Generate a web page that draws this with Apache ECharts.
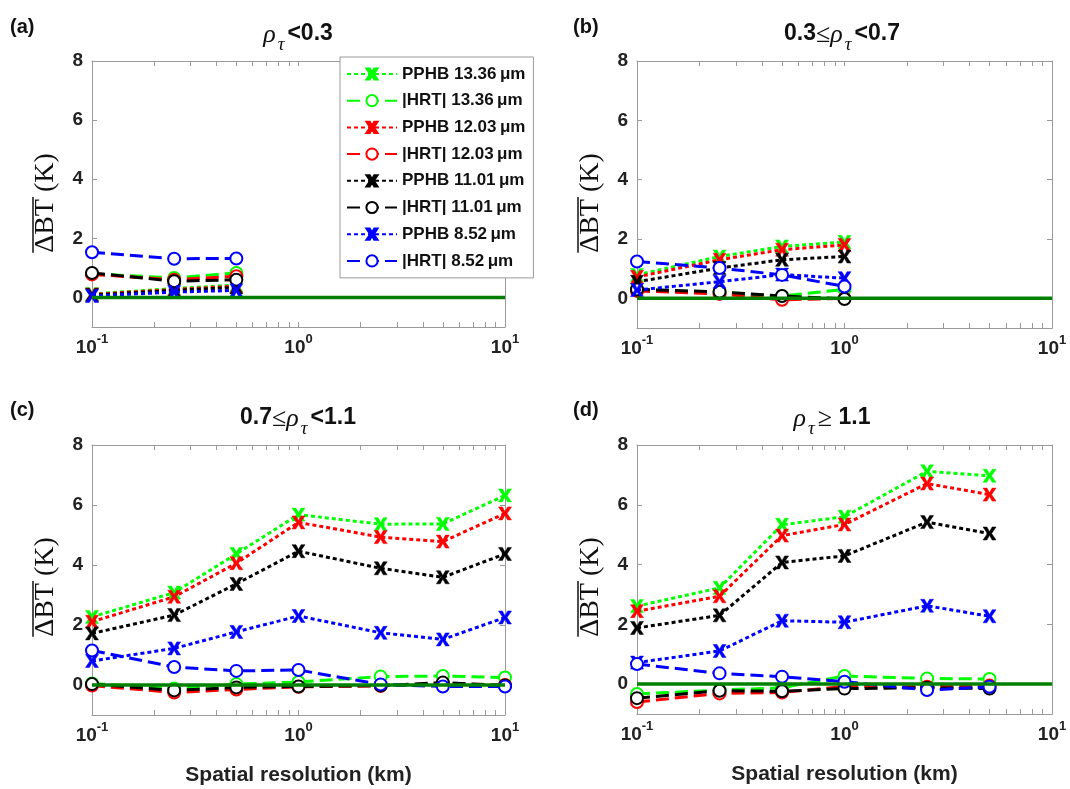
<!DOCTYPE html>
<html><head><meta charset="utf-8">
<script src="https://cdn.jsdelivr.net/npm/echarts@6/dist/echarts.min.js"></script>
<style>html,body{margin:0;padding:0;background:#fff}#c{width:1070px;height:789px}</style>
</head><body><div id="c"></div>
<script>
// ---------- data ----------
const wavelengths = ['13.36', '12.03', '11.01', '8.52'];
const xTickValues = [0.1, 1, 10];
const xMinorTicks = [0.2,0.3,0.4,0.5,0.6,0.7,0.8,0.9,2,3,4,5,6,7,8,9];
const yTickValues = [0, 2, 4, 6, 8];
const panelTitles = ['(a)', '(b)', '(c)', '(d)'];
const xAxisTitle = 'Spatial resolution (km)';
const yAxisTitle = 'ΔBT (K)';

// panel (a): rho_tau < 0.3
const resA = [0.1, 0.25, 0.5];
const pphbA_1336 = [0.12, 0.30, 0.42];
const hrtA_1336  = [0.80, 0.66, 0.83];
const pphbA_1203 = [0.10, 0.27, 0.38];
const hrtA_1203  = [0.78, 0.60, 0.72];
const pphbA_1101 = [0.08, 0.24, 0.34];
const hrtA_1101  = [0.83, 0.55, 0.60];
const pphbA_852  = [0.05, 0.18, 0.24];
const hrtA_852   = [1.53, 1.31, 1.32];

// panel (b): 0.3 <= rho_tau < 0.7
const resB = [0.1, 0.25, 0.5, 1];
const pphbB_1336 = [0.79, 1.41, 1.75, 1.90];
const hrtB_1336  = [0.30, 0.20, 0.08, 0.30];
const pphbB_1203 = [0.72, 1.30, 1.64, 1.80];
const hrtB_1203  = [0.25, 0.15, -0.05, 0.00];
const pphbB_1101 = [0.56, 1.02, 1.30, 1.41];
const hrtB_1101  = [0.30, 0.22, 0.08, -0.02];
const pphbB_852  = [0.28, 0.56, 0.80, 0.68];
const hrtB_852   = [1.24, 1.02, 0.79, 0.40];

// panel (c): 0.7 <= rho_tau < 1.1
const resC = [0.1, 0.25, 0.5, 1, 2.5, 5, 10];
const pphbC_1336 = [2.27, 3.08, 4.37, 5.68, 5.36, 5.37, 6.32];
const hrtC_1336  = [0.05, -0.12, 0.03, 0.10, 0.28, 0.30, 0.25];
const pphbC_1203 = [2.11, 2.94, 4.06, 5.42, 4.93, 4.78, 5.72];
const hrtC_1203  = [-0.02, -0.25, -0.15, -0.06, -0.03, 0.05, 0.00];
const pphbC_1101 = [1.72, 2.33, 3.37, 4.46, 3.89, 3.59, 4.37];
const hrtC_1101  = [0.03, -0.18, -0.08, -0.05, -0.02, 0.08, -0.02];
const pphbC_852  = [0.80, 1.22, 1.77, 2.30, 1.74, 1.52, 2.25];
const hrtC_852   = [1.15, 0.60, 0.47, 0.50, 0.02, -0.05, -0.05];

// panel (d): rho_tau >= 1.1
const resD = [0.1, 0.25, 0.5, 1, 2.5, 5];
const pphbD_1336 = [2.61, 3.22, 5.33, 5.60, 7.12, 6.97];
const hrtD_1336  = [-0.33, -0.20, -0.12, 0.27, 0.19, 0.17];
const pphbD_1203 = [2.44, 2.94, 4.97, 5.34, 6.71, 6.34];
const hrtD_1203  = [-0.60, -0.31, -0.28, -0.08, -0.09, -0.05];
const pphbD_1101 = [1.88, 2.30, 4.07, 4.29, 5.42, 5.04];
const hrtD_1101  = [-0.47, -0.22, -0.24, -0.15, -0.12, -0.15];
const pphbD_852  = [0.72, 1.11, 2.12, 2.07, 2.62, 2.27];
const hrtD_852   = [0.67, 0.36, 0.25, 0.08, -0.20, -0.09];

const zeroLineX = [0.1, 10];
const zeroLineY = [0, 0];

// ---------- layout / style ----------
const panels = [
  {x: resA, pphb: [pphbA_1336, pphbA_1203, pphbA_1101, pphbA_852], hrt: [hrtA_1336, hrtA_1203, hrtA_1101, hrtA_852]},
  {x: resB, pphb: [pphbB_1336, pphbB_1203, pphbB_1101, pphbB_852], hrt: [hrtB_1336, hrtB_1203, hrtB_1101, hrtB_852]},
  {x: resC, pphb: [pphbC_1336, pphbC_1203, pphbC_1101, pphbC_852], hrt: [hrtC_1336, hrtC_1203, hrtC_1101, hrtC_852]},
  {x: resD, pphb: [pphbD_1336, pphbD_1203, pphbD_1101, pphbD_852], hrt: [hrtD_1336, hrtD_1203, hrtD_1101, hrtD_852]}
];
const grids = [
  {left: 92,  top: 61,  width: 413, height: 266},
  {left: 637, top: 61,  width: 415, height: 267},
  {left: 92,  top: 445, width: 413, height: 270},
  {left: 637, top: 445, width: 415, height: 269}
];
const colors = ['#00ff00', '#ff0000', '#000000', '#0000ff'];
const SANS = '"Liberation Sans", Arial, Helvetica, sans-serif';
const SERIF = '"Liberation Serif", "Times New Roman", serif';
const AX = '#9a9a9a';
const xSym = 'path://M0,0 L3,0 L5,3.6 L7,0 L10,0 L6.6,5 L10,10 L7,10 L5,6.4 L3,10 L0,10 L3.4,5 Z';

const xAxes = [], yAxes = [], series = [];
grids.forEach((g, gi) => {
  const bottomName = gi >= 2 ? xAxisTitle : '';
  xAxes.push({
    type: 'log', logBase: 10, min: 0.1, max: 10, gridIndex: gi, position: 'bottom',
    name: bottomName, nameLocation: 'middle', nameGap: 50,
    nameTextStyle: {fontFamily: SANS, fontWeight: 'bold', fontSize: 21, color: '#222'},
    axisLine: {show: true, onZero: false, lineStyle: {color: AX, width: 1}},
    axisTick: {show: true, inside: true, length: 5, lineStyle: {color: AX}, customValues: xTickValues.concat(xMinorTicks)},
    axisLabel: {
      show: true, margin: 6, customValues: xTickValues,
      formatter: v => '{b|10}{s|' + Math.round(Math.log10(v)) + '}',
      rich: {
        b: {fontFamily: SANS, fontWeight: 'bold', fontSize: 19, color: '#222', lineHeight: 30},
        s: {fontFamily: SANS, fontWeight: 'bold', fontSize: 13, color: '#222', lineHeight: 12, verticalAlign: 'top'}
      }
    },
    splitLine: {show: false}
  });
  xAxes.push({
    type: 'log', logBase: 10, min: 0.1, max: 10, gridIndex: gi, position: 'top',
    axisLine: {show: true, onZero: false, lineStyle: {color: AX, width: 1}},
    axisTick: {show: true, inside: true, length: 5, lineStyle: {color: AX}, customValues: xTickValues.concat(xMinorTicks)},
    axisLabel: {show: false}, splitLine: {show: false}
  });
  yAxes.push({
    type: 'value', min: -1, max: 8, gridIndex: gi, position: 'left',
    axisLine: {show: true, onZero: false, lineStyle: {color: AX, width: 1}},
    axisTick: {show: true, inside: true, length: 5, lineStyle: {color: AX}, customValues: yTickValues},
    axisLabel: {show: true, margin: 9, customValues: yTickValues, fontFamily: SANS, fontWeight: 'bold', fontSize: 19, color: '#222'},
    splitLine: {show: false}
  });
  yAxes.push({
    type: 'value', min: -1, max: 8, gridIndex: gi, position: 'right',
    axisLine: {show: true, onZero: false, lineStyle: {color: AX, width: 1}},
    axisTick: {show: true, inside: true, length: 5, lineStyle: {color: AX}, customValues: yTickValues},
    axisLabel: {show: false}, splitLine: {show: false}
  });

  const p = panels[gi];
  for (let k = 0; k < 4; k++) {
    const c = colors[k];
    series.push({
      type: 'line', name: 'PPHB ' + wavelengths[k] + '\u2009μm',
      xAxisIndex: gi * 2, yAxisIndex: gi * 2,
      data: p.x.map((x, j) => [x, p.pphb[k][j]]),
      symbol: xSym, symbolSize: 13,
      lineStyle: {color: c, width: 3, type: [4, 3]},
      itemStyle: {color: c, borderColor: c, borderWidth: 0.5},
      z: 2 + 2 * k, animation: false
    });
    series.push({
      type: 'line', name: '|HRT| ' + wavelengths[k] + '\u2009μm',
      xAxisIndex: gi * 2, yAxisIndex: gi * 2,
      data: p.x.map((x, j) => [x, p.hrt[k][j]]),
      symbol: 'emptyCircle', symbolSize: 12,
      lineStyle: {color: c, width: 3, type: [13, 6]},
      itemStyle: {color: c, borderColor: c, borderWidth: 2.5},
      z: 3 + 2 * k, animation: false
    });
  }
  series.push({
    type: 'line', name: 'zero', xAxisIndex: gi * 2, yAxisIndex: gi * 2,
    data: zeroLineX.map((x, j) => [x, zeroLineY[j]]),
    symbol: 'none', lineStyle: {color: '#008000', width: 3.5}, z: 20, animation: false,
    silent: true
  });
});

const legendNames = [];
wavelengths.forEach(w => { legendNames.push('PPHB ' + w + '\u2009μm'); legendNames.push('|HRT| ' + w + '\u2009μm'); });

// ---------- graphics: panel letters, titles, y-axis names ----------
const graphics = [];
const letterPos = [[10, 27], [573, 27], [10, 410], [573, 410]];
letterPos.forEach((pp, i) => graphics.push({
  type: 'text', x: pp[0], y: pp[1], z: 50,
  style: {text: panelTitles[i], fontFamily: SANS, fontWeight: 'bold', fontSize: 20, fill: '#111', verticalAlign: 'middle', align: 'left'}
}));
const titleRich = {
  b: {fontFamily: SANS, fontWeight: 'bold', fontSize: 23, fill: '#111', lineHeight: 24, verticalAlign: 'top'},
  r: {fontFamily: SERIF, fontStyle: 'italic', fontSize: 26, fill: '#111', lineHeight: 24, verticalAlign: 'top'},
  t: {fontFamily: SERIF, fontStyle: 'italic', fontSize: 19, fill: '#111', lineHeight: 32, verticalAlign: 'bottom', padding: [0, 3, 0, 2]},
  m: {fontFamily: SERIF, fontSize: 26, fill: '#111', lineHeight: 24, verticalAlign: 'top'}
};
const titleTexts = [
  '{r|ρ}{t|τ}{b|<0.3}',
  '{b|0.3}{m|≤}{r|ρ}{t|τ}{b|<0.7}',
  '{b|0.7}{m|≤}{r|ρ}{t|τ}{b|<1.1}',
  '{r|ρ}{t|τ}{m|≥}{b| 1.1}'
];
const titlePos = [[298, 22], [842, 22], [298, 406], [832, 406]];
titleTexts.forEach((t, i) => graphics.push({
  type: 'text', x: titlePos[i][0], y: titlePos[i][1], z: 50,
  style: {text: t, rich: titleRich, align: 'center', verticalAlign: 'top'}
}));

const ylabFont = '28px "Liberation Serif", serif';
const cv = document.createElement('canvas').getContext('2d');
cv.font = ylabFont;
const wAll = cv.measureText(yAxisTitle).width;
const wOver = cv.measureText('ΔBT').width;
const ylabPos = [[46, 203], [591, 203], [46, 587], [591, 587]];
ylabPos.forEach(pp => graphics.push({
  type: 'group', x: pp[0], y: pp[1], rotation: Math.PI / 2, z: 50,
  children: [
    {type: 'text', x: 0, y: 0, style: {text: yAxisTitle, font: ylabFont, fill: '#111', align: 'center', verticalAlign: 'middle'}},
    {type: 'line', shape: {x1: -wAll / 2, y1: -13, x2: -wAll / 2 + wOver + 2, y2: -13}, style: {stroke: '#111', lineWidth: 1.5}}
  ]
}));

const chart = echarts.init(document.getElementById('c'), null, {renderer: 'canvas'});
chart.setOption({
  backgroundColor: '#ffffff',
  animation: false,
  grid: grids,
  xAxis: xAxes,
  yAxis: yAxes,
  legend: {
    data: legendNames, orient: 'vertical', left: 340, top: 57,
    padding: [8, 8, 8, 6], itemWidth: 50, itemHeight: 14, itemGap: 8.7,
    backgroundColor: '#ffffff', borderColor: '#9a9a9a', borderWidth: 1, z: 30,
    textStyle: {fontFamily: SANS, fontWeight: 'bold', fontSize: 17, color: '#111', lineHeight: 18}
  },
  series: series,
  graphic: graphics
});
</script></body></html>
